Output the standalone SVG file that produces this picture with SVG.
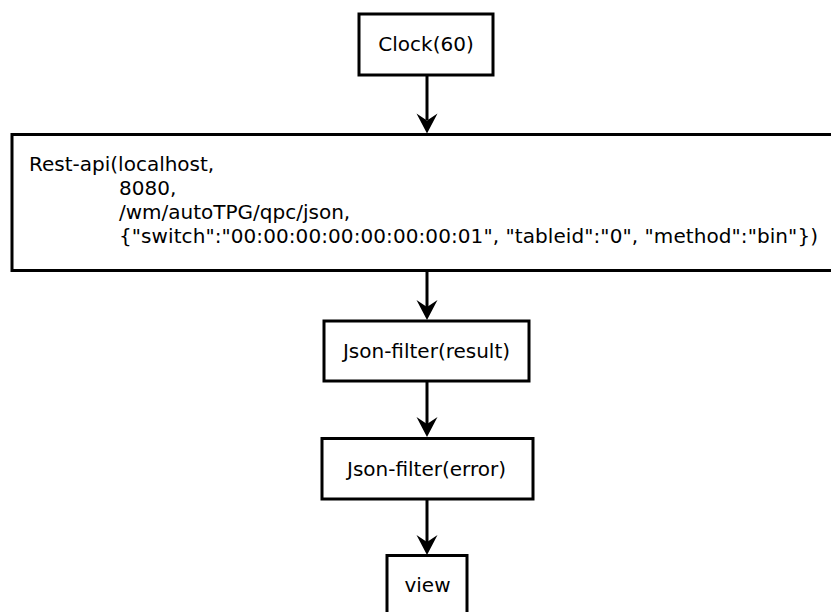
<svg xmlns="http://www.w3.org/2000/svg" width="831" height="612" viewBox="0 0 831 612">
<style>
.box{fill:#fff;stroke:#000;stroke-width:3}
.lbl{font-family:"DejaVu Sans",sans-serif;font-size:20px;fill:#000}
.c{text-anchor:middle}
.edge{stroke:#000;stroke-width:3;fill:none}
.head{fill:#000;stroke:none}
</style>
<defs>
<path id="ah" d="M0,0 L-10.5,-20 L0,-13 L10.5,-20 Z"/>
</defs>
<rect width="831" height="612" fill="#fff"/>
<g id="edges">
<line class="edge" x1="427" y1="75" x2="427" y2="120"/>
<use href="#ah" class="head" x="427" y="133.5"/>
<line class="edge" x1="427" y1="270.5" x2="427" y2="307"/>
<use href="#ah" class="head" x="427" y="320"/>
<line class="edge" x1="427" y1="381" x2="427" y2="424"/>
<use href="#ah" class="head" x="427" y="437"/>
<line class="edge" x1="427" y1="499" x2="427" y2="542"/>
<use href="#ah" class="head" x="427" y="555"/>
</g>
<g id="clock">
<rect class="box" x="359" y="14" width="134" height="61"/>
<text class="lbl c" x="426" y="51">Clock(60)</text>
</g>
<g id="restapi">
<rect class="box" x="12" y="134.5" width="840" height="136"/>
<text class="lbl" x="29" y="171">Rest-api(localhost,</text>
<text class="lbl" x="119" y="195">8080,</text>
<text class="lbl" x="119" y="219">/wm/autoTPG/qpc/json,</text>
<text class="lbl" x="119" y="243" textLength="699" lengthAdjust="spacing">{"switch":"00:00:00:00:00:00:00:01", "tableid":"0", "method":"bin"})</text>
</g>
<g id="jsonresult">
<rect class="box" x="324" y="321" width="205" height="60"/>
<text class="lbl c" x="426.5" y="358">Json-filter(result)</text>
</g>
<g id="jsonerror">
<rect class="box" x="322" y="438.5" width="211" height="60.5"/>
<text class="lbl c" x="426.5" y="475.5">Json-filter(error)</text>
</g>
<g id="view">
<rect class="box" x="387" y="555.5" width="80" height="62"/>
<text class="lbl c" x="427.5" y="591.5">view</text>
</g>
</svg>
